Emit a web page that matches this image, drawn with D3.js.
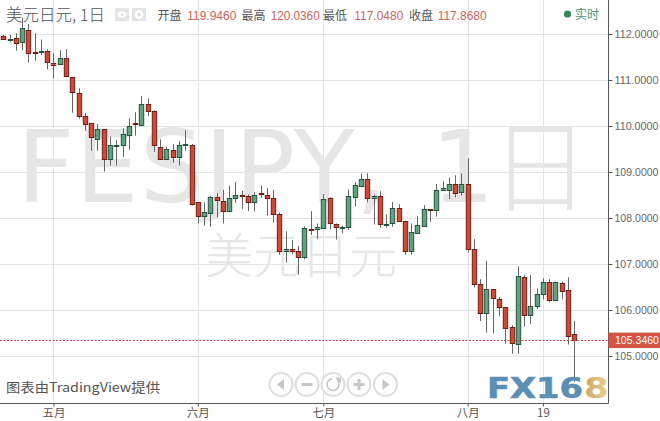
<!DOCTYPE html>
<html><head><meta charset="utf-8">
<script src="https://cdn.jsdelivr.net/npm/d3@7"></script>
<style>html,body{margin:0;padding:0;background:#fff;overflow:hidden}svg{display:block}</style>
</head><body><svg id="c" width="660" height="421"></svg>
<script>
const opens=[111.96,111.89,111.91,111.81,112.08,111.60,111.61,111.62,111.38,111.34,111.47,111.06,110.71,110.22,110.06,109.72,109.93,109.28,109.58,109.58,109.82,110.06,110.01,110.47,110.32,109.54,109.28,109.48,109.33,109.57,109.59,108.34,108.03,108.11,108.45,108.38,108.14,108.42,108.49,108.47,108.35,108.54,108.49,108.43,108.08,107.27,107.32,107.28,107.14,107.76,107.75,107.79,108.43,107.86,107.79,107.79,108.45,108.69,108.84,108.42,108.47,107.86,107.88,108.21,107.93,107.28,107.67,107.83,108.19,108.17,108.60,108.62,108.75,108.56,108.73,107.32,106.56,105.93,106.45,106.23,106.06,105.62,105.26,106.71,105.88,106.08,106.34,106.60,106.21,106.58,106.43,105.47];
const closes=[111.90,111.90,111.81,112.12,111.58,111.58,111.62,111.38,111.34,111.47,111.08,110.73,110.20,110.05,109.75,109.93,109.28,109.58,109.59,109.82,110.01,110.03,110.47,110.32,109.58,109.28,109.49,109.33,109.59,109.60,108.31,108.03,108.12,108.45,108.38,108.17,108.43,108.49,108.48,108.34,108.51,108.51,108.42,108.08,107.27,107.32,107.27,107.14,107.78,107.75,107.80,108.41,107.88,107.79,107.80,108.47,108.71,108.84,108.43,108.47,107.86,107.88,108.21,107.93,107.28,107.69,107.84,108.19,108.17,108.60,108.65,108.75,108.56,108.73,107.32,106.56,105.93,106.45,106.25,106.06,105.60,105.27,106.73,105.88,106.08,106.34,106.60,106.21,106.60,106.41,105.44,105.346];
const highs=[111.98,111.98,112.02,112.35,112.22,112.02,111.88,111.67,111.58,111.65,111.67,111.06,110.82,110.28,110.07,110.04,109.93,109.77,109.70,109.95,110.17,110.30,110.65,110.60,110.34,109.71,109.55,109.61,109.67,109.91,109.61,108.34,108.34,108.48,108.54,108.61,108.70,108.78,108.59,108.51,108.56,108.71,108.65,108.61,108.12,107.71,107.52,107.39,107.82,108.15,107.88,108.52,108.45,107.88,107.83,108.62,108.78,108.96,108.97,108.51,108.58,108.08,108.35,108.30,107.93,107.88,108.04,108.28,108.19,108.74,108.80,108.88,108.93,108.97,109.30,107.54,106.67,107.07,106.45,106.28,106.06,105.67,106.95,106.75,106.76,106.47,106.69,106.67,106.62,106.62,106.71,105.76];
const lows=[111.87,111.83,111.64,111.65,111.38,111.42,111.54,111.23,111.03,111.34,111.06,110.29,110.16,109.90,109.46,109.46,109.01,109.14,109.14,109.33,109.48,109.79,110.01,110.22,109.44,109.28,109.26,109.20,109.14,109.46,108.27,107.88,107.83,107.81,108.01,107.88,108.14,108.33,108.20,108.15,108.14,108.44,108.05,107.90,107.20,107.03,107.22,106.77,107.10,107.63,107.54,107.79,107.75,107.53,107.67,107.74,108.25,108.67,108.34,107.86,107.79,107.79,107.81,107.93,107.20,107.20,107.67,107.83,107.92,108.03,108.60,108.41,108.45,108.49,107.25,106.49,105.76,105.51,105.49,105.87,105.27,105.05,105.05,105.64,105.70,106.02,106.23,106.17,106.21,106.23,105.25,104.44];
const priceTicks=[112,111,110,109,108,107,106,105];
const timeTickIndex=[8,31,51,74,86];
const timeTickLabels=["五月","六月","七月","八月","19"];
const lastPrice=105.346;
const quoteLabels=["开盘","最高","最低","收盘"];
const quoteValues=["119.9460","120.0360","117.0480","117.8680"];

const svg=d3.select("#c");
const W=660,H=421,axisX=608.5,axisY=403.5;
const sans="'Liberation Sans',Arial,sans-serif", cjk="'Noto Sans CJK SC','Liberation Sans',sans-serif", dv="'DejaVu Sans',sans-serif";
const x=d3.scaleLinear().domain([0,91]).range([3.3,574.3]);
const y=d3.scaleLinear().domain([112,105]).range([34,356]);

// grid
const grid=svg.append("g").attr("stroke","#e4e4e4").attr("stroke-width",1);
grid.selectAll("line.h").data(priceTicks).join("line").attr("class","h")
  .attr("x1",0).attr("x2",axisX).attr("y1",d=>Math.round(y(d))+.5).attr("y2",d=>Math.round(y(d))+.5);
grid.selectAll("line.v").data(timeTickIndex).join("line").attr("class","v")
  .attr("y1",0).attr("y2",axisY).attr("x1",d=>Math.round(x(d))+.5).attr("x2",d=>Math.round(x(d))+.5);

// watermarks
const wm=svg.append("g").attr("fill","#e6e6e6");
wm.append("text").attr("x",17).attr("y",202).attr("font-family",dv).attr("font-size",100).attr("letter-spacing",1).text("FESJPY,");
wm.append("text").attr("x",431).attr("y",202).attr("font-family",dv).attr("font-size",100).text("1");
wm.append("text").attr("x",490).attr("y",204).attr("font-family",cjk).attr("font-size",100).attr("font-weight",300).text("日");
wm.append("text").attr("x",205).attr("y",273).attr("font-family",cjk).attr("font-size",48).attr("font-weight",300).text("美元日元");

// candles
const idx=d3.range(opens.length);
const wicks=svg.append("g").attr("stroke","#666").attr("stroke-width",1);
wicks.selectAll("line").data(idx).join("line")
  .attr("x1",i=>Math.round(x(i))+.5).attr("x2",i=>Math.round(x(i))+.5)
  .attr("y1",i=>y(highs[i])).attr("y2",i=>y(lows[i]));
const bw=4.4;
svg.append("g").selectAll("rect").data(idx).join("rect")
  .attr("x",i=>Math.round(x(i))+.5-bw/2)
  .attr("width",bw)
  .attr("y",i=>Math.round(y(Math.max(opens[i],closes[i])))+.5)
  .attr("height",i=>Math.max(Math.round(Math.abs(y(opens[i])-y(closes[i]))),1))
  .attr("fill",i=>closes[i]>=opens[i]?"#62a082":"#cf4b38")
  .attr("stroke",i=>closes[i]>=opens[i]?"#23543d":"#6e1f15")
  .attr("stroke-width",1);

// last price line
svg.append("line").attr("x1",0).attr("x2",axisX).attr("y1",Math.round(y(lastPrice))+.5).attr("y2",Math.round(y(lastPrice))+.5)
  .attr("stroke","#c0503f").attr("stroke-width",1).attr("stroke-dasharray","2,1.5");

// axes
const yAxis=d3.axisRight(y).tickValues(priceTicks).tickSize(4).tickPadding(2).tickFormat(d3.format(".4f"));
const ya=svg.append("g").attr("transform",`translate(${axisX},0)`).call(yAxis);
ya.select(".domain").remove();
ya.selectAll(".tick line").attr("stroke","#555");
ya.selectAll(".tick text").attr("fill","#666").attr("font-family",sans).attr("font-size",11).attr("textLength",44).attr("lengthAdjust","spacingAndGlyphs");
svg.append("line").attr("x1",axisX).attr("x2",axisX).attr("y1",0).attr("y2",axisY).attr("stroke","#555");

const xAxis=d3.axisBottom(x).tickValues(timeTickIndex).tickSize(3).tickPadding(2).tickFormat((d,i)=>timeTickLabels[i]);
const xa=svg.append("g").attr("transform",`translate(0,${axisY})`).call(xAxis);
xa.select(".domain").remove();
xa.selectAll(".tick line").attr("stroke","#555");
xa.selectAll(".tick text").attr("fill","#555").attr("font-family",cjk).attr("font-size",11.5);
svg.append("line").attr("x1",0).attr("x2",axisX).attr("y1",axisY).attr("y2",axisY).attr("stroke","#555");

// last price label
svg.append("rect").attr("x",axisX).attr("y",y(lastPrice)-7.5).attr("width",W-axisX).attr("height",15.5).attr("fill","#d35442");
svg.append("text").attr("x",615).attr("y",y(lastPrice)+4.3).attr("font-family",sans).attr("font-size",11)
  .attr("fill","#fff").attr("textLength",44).attr("lengthAdjust","spacingAndGlyphs").text(d3.format(".4f")(lastPrice));

// header
svg.append("text").attr("x",6).attr("y",20.5).attr("font-family",cjk).attr("font-size",16.5).attr("font-weight",300).attr("fill","#555").text("美元日元, 1日");
[[115,8],[132,8]].forEach(p=>svg.append("rect").attr("x",p[0]).attr("y",p[1]).attr("width",14).attr("height",13).attr("fill","#e4e4e4"));
svg.append("ellipse").attr("cx",122).attr("cy",14.5).attr("rx",4.5).attr("ry",3).attr("fill","#fff");
svg.append("circle").attr("cx",122).attr("cy",14.5).attr("r",1.5).attr("fill","#e4e4e4");
svg.append("circle").attr("cx",139).attr("cy",14.5).attr("r",3.2).attr("fill","none").attr("stroke","#fff").attr("stroke-width",2.4);
const qlx=[157.5,241.5,323,409], qvx=[187.3,270.7,354.3,437.7];
quoteLabels.forEach((t,i)=>{
  svg.append("text").attr("x",qlx[i]).attr("y",20).attr("font-family",cjk).attr("font-size",12).attr("fill","#555").text(t);
  svg.append("text").attr("x",qvx[i]).attr("y",20).attr("font-family",sans).attr("font-size",12).attr("fill","#c9655a").attr("textLength",49).attr("lengthAdjust","spacingAndGlyphs").text(quoteValues[i]);
});
svg.append("circle").attr("cx",567.5).attr("cy",14).attr("r",3.6).attr("fill","#2f8a5b");
svg.append("text").attr("x",575).attr("y",18.5).attr("font-family",cjk).attr("font-size",12).attr("fill","#4c9571").text("实时");

// attribution
svg.append("text").attr("x",6).attr("y",392).attr("font-family",cjk).attr("font-size",13).attr("fill","#555").attr("textLength",154).attr("lengthAdjust","spacingAndGlyphs").text("图表由TradingView提供");

// nav buttons
const navX=[281,307,333,359,385.5], navY=384.5;
svg.append("g").selectAll("circle").data(navX).join("circle").attr("cx",d=>d).attr("cy",navY).attr("r",11.5)
  .attr("fill","#fff").attr("stroke","#dedede").attr("stroke-width",2);
const ic="#c6c6c6";
svg.append("path").attr("d",`M${navX[0]-4},${navY}l7,-5.5v11z`).attr("fill",ic);
svg.append("rect").attr("x",navX[1]-5.5).attr("y",navY-1.5).attr("width",11).attr("height",3).attr("fill",ic);
svg.append("path").attr("d",d3.arc()({innerRadius:5.2,outerRadius:6.8,startAngle:0.75,endAngle:6.1})).attr("transform",`translate(${navX[2]},${navY})`).attr("fill",ic);
svg.append("path").attr("d",`M${navX[2]+2},${navY-7}h6v6z`).attr("fill",ic);
svg.append("rect").attr("x",navX[3]-5.5).attr("y",navY-1.5).attr("width",11).attr("height",3).attr("fill",ic);
svg.append("rect").attr("x",navX[3]-1.5).attr("y",navY-5.5).attr("width",3).attr("height",11).attr("fill",ic);
svg.append("path").attr("d",`M${navX[4]+4},${navY}l-7,-5.5v11z`).attr("fill",ic);

// logo
const defs=svg.append("defs");
const gold=defs.append("linearGradient").attr("id","gold").attr("x1",0).attr("x2",1).attr("y1",0).attr("y2",0);
gold.append("stop").attr("offset",0).attr("stop-color","#c9a45f");
gold.append("stop").attr("offset",1).attr("stop-color","#efd595");
svg.append("text").attr("x",487).attr("y",397.5).attr("font-family",dv).attr("font-weight",700).attr("font-size",29)
  .attr("fill","#5b8fb5").attr("stroke","#5b8fb5").attr("stroke-width",.6).attr("textLength",96).attr("lengthAdjust","spacingAndGlyphs").text("FX16");
svg.append("text").attr("x",584).attr("y",397.5).attr("font-family",dv).attr("font-weight",700).attr("font-size",29)
  .attr("fill","url(#gold)").attr("textLength",25).attr("lengthAdjust","spacingAndGlyphs").text("8");
</script></body></html>
